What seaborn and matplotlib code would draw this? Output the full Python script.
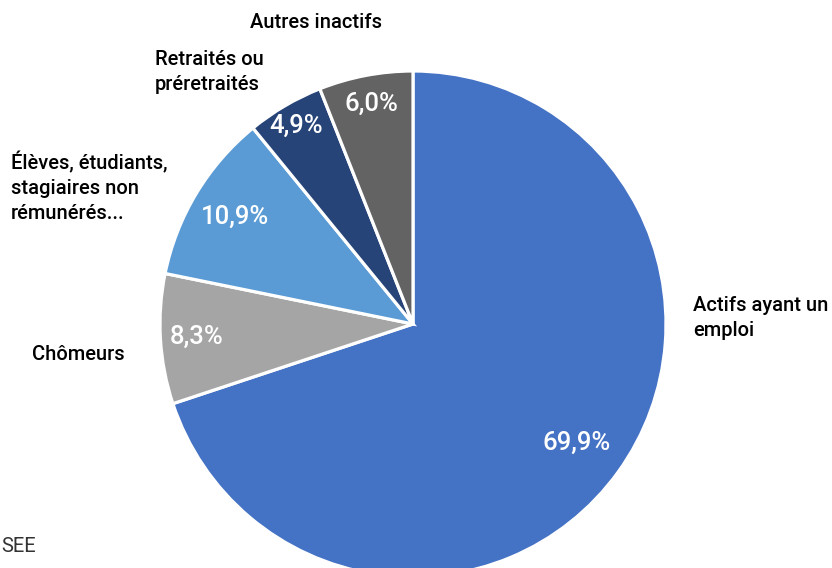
import numpy as np
import seaborn as sns
import matplotlib.pyplot as plt

# Population de 15 ans ou plus selon le statut d'activité
categories = ['Actifs ayant un\nemploi', 'Chômeurs',
              'Élèves, étudiants,\nstagiaires non\nrémunérés...',
              'Retraités ou\npréretraités', 'Autres inactifs']
values = [69.9, 8.3, 10.9, 4.9, 6.0]
pct_labels = ['69,9%', '8,3%', '10,9%', '4,9%', '6,0%']
colors = ['#4472C4', '#A5A5A5', '#5B9BD5', '#264478', '#636363']

sns.set_theme(style='white')
plt.rcParams['font.family'] = ['Roboto', 'DejaVu Sans']

W, H = 832, 568
fig = plt.figure(figsize=(W / 100, H / 100), dpi=100)

# pie centre and radius in pixels
cx, cy, r = 413, 324, 253
ax = fig.add_axes([(cx - r) / W, (H - cy - r) / H, 2 * r / W, 2 * r / H])

wedges, _ = ax.pie(values, colors=colors, startangle=90, counterclock=False,
                   radius=1, wedgeprops=dict(edgecolor='white', linewidth=2.3))
ax.set_xlim(-1, 1)
ax.set_ylim(-1, 1)
ax.set_aspect('equal')
ax.axis('off')

# percentage labels inside slices
pct_r = [0.80, 0.855, 0.82, 0.91, 0.885]
for w, lab, rr in zip(wedges, pct_labels, pct_r):
    ang = np.deg2rad((w.theta1 + w.theta2) / 2)
    ax.text(rr * np.cos(ang), rr * np.sin(ang), lab, color='white',
            fontsize=18.5, fontweight='medium', ha='center', va='center')

# category labels (pixel positions of the original layout)
def px(x, y):
    return (x - cx) / r, (cy - y) / r

label_pos = [(693, 318, 'left'), (125, 354, 'right'), (11, 187, 'left'),
             (155, 72, 'left'), (250, 22, 'left')]
for lab, (x, y, ha) in zip(categories, label_pos):
    tx, ty = px(x, y)
    ax.text(tx, ty, lab, fontsize=14.5, fontweight='medium', ha=ha, va='center',
            color='black', linespacing=1.4, clip_on=False)

fig.text(1 / W, 1 - 546 / H, 'SEE', fontsize=14.5, ha='left',
         va='center', color='#333333')

fig.savefig('out.png', dpi=100)
